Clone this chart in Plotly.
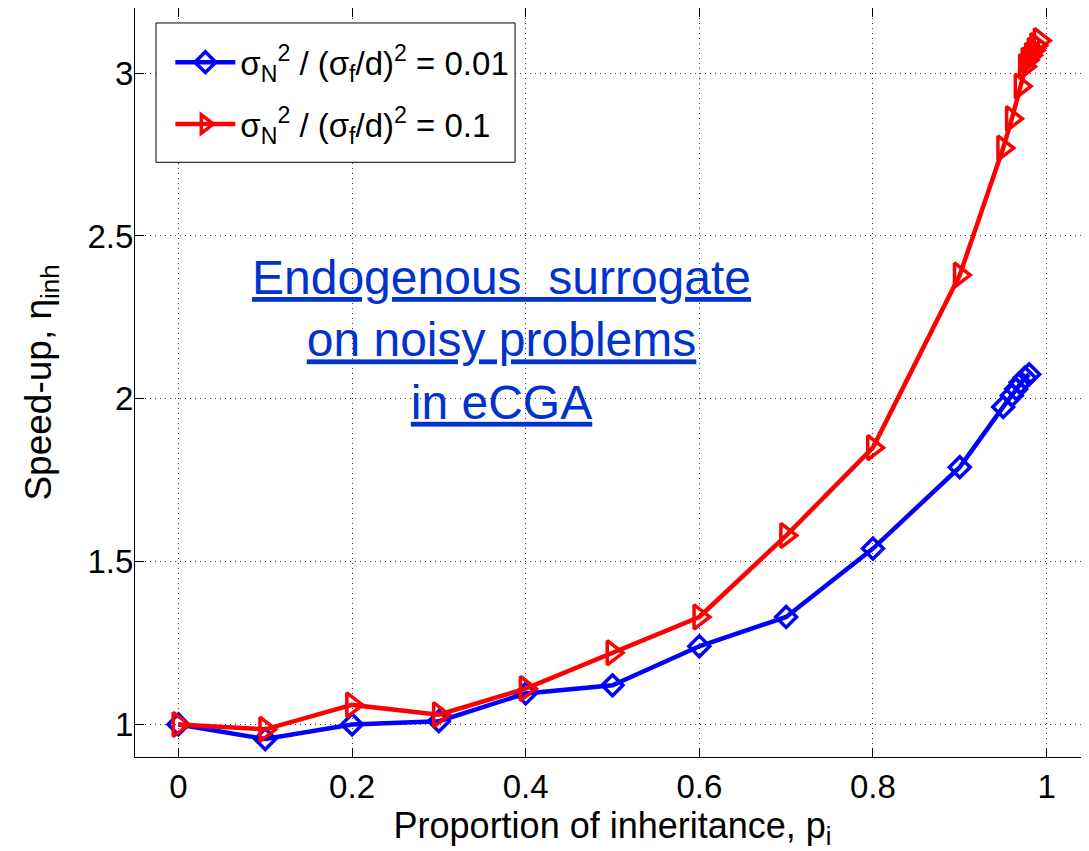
import plotly.graph_objects as go

# ---- data ----
x_blue = [0.0, 0.1, 0.2, 0.3, 0.4, 0.5, 0.6, 0.7, 0.8, 0.9, 0.95, 0.96, 0.965, 0.97, 0.975, 0.98]
y_blue = [1.0, 0.955, 1.0, 1.01, 1.095, 1.12, 1.24, 1.33, 1.54, 1.79, 1.975, 2.01, 2.03, 2.05, 2.065, 2.075]

x_red = [0.0, 0.1, 0.2, 0.3, 0.4, 0.5, 0.6, 0.7, 0.8, 0.9, 0.95, 0.96, 0.97, 0.975, 0.978, 0.982, 0.985, 0.988, 0.992]
y_red = [1.0, 0.985, 1.06, 1.03, 1.11, 1.22, 1.33, 1.58, 1.85, 2.38, 2.77, 2.86, 2.96, 3.02, 3.04, 3.055, 3.07, 3.085, 3.1]

name_blue = "σ<sub>N</sub><sup>2</sup> / (σ<sub>f</sub>/d)<sup>2</sup> = 0.01"
name_red = "σ<sub>N</sub><sup>2</sup> / (σ<sub>f</sub>/d)<sup>2</sup> = 0.1"

x_ticks = [0, 0.2, 0.4, 0.6, 0.8, 1]
x_ticklabels = ["0", "0.2", "0.4", "0.6", "0.8", "1"]
y_ticks = [1, 1.5, 2, 2.5, 3]
y_ticklabels = ["1", "1.5", "2", "2.5", "3"]

FONT = "Arial, Liberation Sans, sans-serif"

fig = go.Figure()
fig.add_trace(go.Scatter(
    x=x_blue, y=y_blue, mode="lines+markers", name=name_blue, legendgroup="b",
    line=dict(color="#0000FF", width=4.5),
    marker=dict(symbol="diamond-open", size=16, color="#0000FF", line=dict(width=3.5, color="#0000FF")),
))
fig.add_trace(go.Scatter(
    x=x_red, y=y_red, mode="lines+markers", name=name_red, legendgroup="r",
    line=dict(color="#FF0000", width=4.5),
    marker=dict(symbol="triangle-right-open", size=21, color="#FF0000", line=dict(width=3.5, color="#FF0000")),
))

fig.add_annotation(
    x=0.372, y=2.18, xref="x", yref="y",
    text="<u>Endogenous  surrogate</u><br><u>on noisy problems</u><br><u>in eCGA</u>",
    showarrow=False, align="center",
    font=dict(family=FONT, size=48, color="#0033CC"),
)

# legend frame (white box with black border, as in the reference)
fig.add_shape(
    type="rect", xref="paper", yref="paper",
    x0=0.022, x1=0.398, y0=0.794, y1=0.980,
    line=dict(color="black", width=1), fillcolor="white", layer="above",
)

axis_common = dict(
    showline=True, linecolor="black", linewidth=1, mirror="ticks",
    ticks="inside", ticklen=9, tickwidth=1, tickcolor="black",
    showgrid=True, gridcolor="#333333", griddash="1px,4px", gridwidth=1,
    zeroline=False, tickfont=dict(family=FONT, size=33, color="black"),
    automargin=False,
)

fig.update_xaxes(
    range=[-0.05, 1.05], tickvals=x_ticks, ticktext=x_ticklabels,
    title=dict(text="Proportion of inheritance, p<sub>i</sub>", font=dict(family=FONT, size=36, color="black"), standoff=5),
    **axis_common,
)
fig.update_yaxes(
    range=[0.9, 3.2], tickvals=y_ticks, ticktext=y_ticklabels, ticklabelstandoff=-6,
    title=dict(text="Speed-up, η<sub>inh</sub>", font=dict(family=FONT, size=37, color="black"), standoff=24),
    **axis_common,
)

fig.update_layout(
    width=1089, height=851,
    margin=dict(l=127, r=7, t=0, b=102),
    plot_bgcolor="white", paper_bgcolor="white",
    font=dict(family=FONT, color="black"),
    legend=dict(
        x=0.037, y=0.965, xanchor="left", yanchor="top",
        bgcolor="rgba(0,0,0,0)", borderwidth=0,
        font=dict(family=FONT, size=33, color="black"),
        tracegroupgap=16, itemwidth=60,
    ),
)

fig.write_html("out.html")
